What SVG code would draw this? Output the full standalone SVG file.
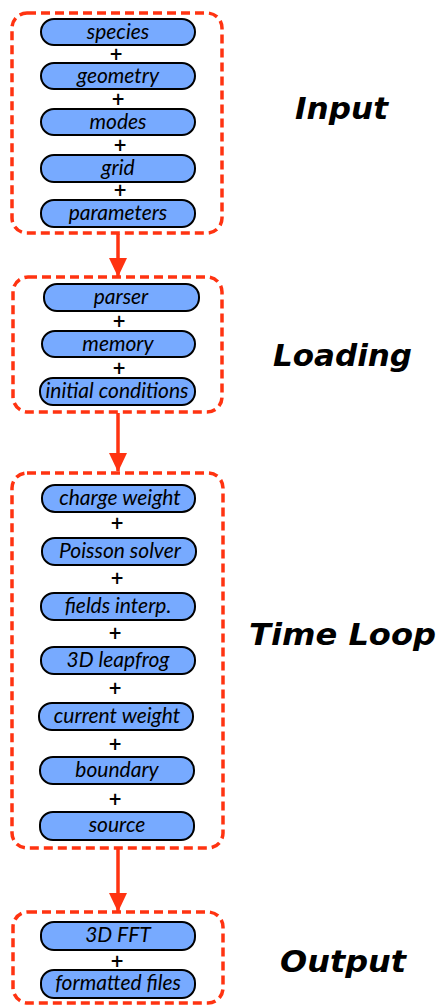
<svg xmlns="http://www.w3.org/2000/svg" width="441" height="1005" viewBox="0 0 441 1005">
<style>
.grp{fill:none;stroke:#ff3311;stroke-width:3.5;stroke-dasharray:9 5}
.pill{fill:#77aaff;stroke:#000;stroke-width:2}
.pt{font-family:Lato,"Open Sans",sans-serif;font-style:italic;font-size:21px;fill:#000;text-anchor:middle}
.plus{font-family:"DejaVu Sans",sans-serif;font-weight:bold;font-size:17px;fill:#000;text-anchor:middle}
.lbl{font-family:"DejaVu Sans",sans-serif;font-style:oblique;font-weight:bold;font-size:31px;fill:#000}
.conn{stroke:#ff3311;stroke-width:3.5;fill:none}
</style>
<defs>
<marker id="ah" markerWidth="18" markerHeight="19" refX="9" refY="18" orient="0" markerUnits="userSpaceOnUse">
<path d="M0,0 L18,0 L9,19 z" fill="#ff3311"/>
</marker>
</defs>
<g id="connectors">
<line class="conn" x1="118" y1="234" x2="118" y2="276" marker-end="url(#ah)"/>
<line class="conn" x1="118" y1="413" x2="118" y2="471" marker-end="url(#ah)"/>
<line class="conn" x1="118" y1="849" x2="118" y2="911" marker-end="url(#ah)"/>
</g>
<g id="input">
<rect class="grp" x="12" y="13" width="210" height="220" rx="15"/>
<g id="species"><rect class="pill" x="41" y="19" width="154" height="26" rx="13"/><text class="pt" x="118" y="39">species</text></g>
<text class="plus" x="116" y="60">+</text>
<g id="geometry"><rect class="pill" x="41" y="63" width="154" height="26" rx="13"/><text class="pt" x="118" y="83">geometry</text></g>
<text class="plus" x="118" y="105">+</text>
<g id="modes"><rect class="pill" x="41" y="109" width="154" height="26" rx="13"/><text class="pt" x="118" y="129">modes</text></g>
<text class="plus" x="120" y="151">+</text>
<g id="grid"><rect class="pill" x="41" y="155" width="154" height="27" rx="13"/><text class="pt" x="118" y="175">grid</text></g>
<text class="plus" x="120" y="196">+</text>
<g id="parameters"><rect class="pill" x="41" y="200" width="154" height="27" rx="13"/><text class="pt" x="118" y="220">parameters</text></g>
<text class="lbl" x="295" y="119" textLength="93" lengthAdjust="spacingAndGlyphs">Input</text>
</g>
<g id="loading">
<rect class="grp" x="13" y="277" width="209" height="135" rx="15"/>
<g id="parser"><rect class="pill" x="44" y="284" width="155" height="27" rx="13"/><text class="pt" x="121" y="304">parser</text></g>
<text class="plus" x="119" y="327">+</text>
<g id="memory"><rect class="pill" x="42" y="331" width="153" height="26" rx="13"/><text class="pt" x="118" y="351">memory</text></g>
<text class="plus" x="119" y="374">+</text>
<g id="initial"><rect class="pill" x="40" y="378" width="155" height="27" rx="13"/><text class="pt" x="117" y="398">initial conditions</text></g>
<text class="lbl" x="273" y="366" textLength="139" lengthAdjust="spacingAndGlyphs">Loading</text>
</g>
<g id="timeloop">
<rect class="grp" x="12" y="473" width="211" height="375" rx="15"/>
<g id="charge"><rect class="pill" x="42" y="485" width="153" height="27" rx="13"/><text class="pt" x="120" y="505">charge weight</text></g>
<text class="plus" x="117" y="529">+</text>
<g id="poisson"><rect class="pill" x="42" y="538" width="154" height="27" rx="13"/><text class="pt" x="120" y="558">Poisson solver</text></g>
<text class="plus" x="117" y="584">+</text>
<g id="fields"><rect class="pill" x="41" y="593" width="154" height="27" rx="13"/><text class="pt" x="118" y="613">fields interp.</text></g>
<text class="plus" x="115" y="639">+</text>
<g id="leapfrog"><rect class="pill" x="41" y="647" width="154" height="27" rx="13"/><text class="pt" x="118" y="667">3D leapfrog</text></g>
<text class="plus" x="115" y="694">+</text>
<g id="current"><rect class="pill" x="39" y="703" width="154" height="27" rx="13"/><text class="pt" x="117" y="723">current weight</text></g>
<text class="plus" x="115" y="750">+</text>
<g id="boundary"><rect class="pill" x="40" y="757" width="154" height="27" rx="13"/><text class="pt" x="117" y="777">boundary</text></g>
<text class="plus" x="115" y="805">+</text>
<g id="source"><rect class="pill" x="40" y="812" width="154" height="28" rx="13"/><text class="pt" x="117" y="832">source</text></g>
<text class="lbl" x="249" y="645" textLength="187" lengthAdjust="spacingAndGlyphs">Time Loop</text>
</g>
<g id="output">
<rect class="grp" x="13" y="912" width="210" height="91" rx="15"/>
<g id="fft"><rect class="pill" x="41" y="922" width="154" height="28" rx="13"/><text class="pt" x="118" y="942">3D FFT</text></g>
<text class="plus" x="117" y="967">+</text>
<g id="files"><rect class="pill" x="41" y="970" width="154" height="28" rx="13"/><text class="pt" x="118" y="990">formatted files</text></g>
<text class="lbl" x="280" y="972" textLength="126" lengthAdjust="spacingAndGlyphs">Output</text>
</g>
</svg>
